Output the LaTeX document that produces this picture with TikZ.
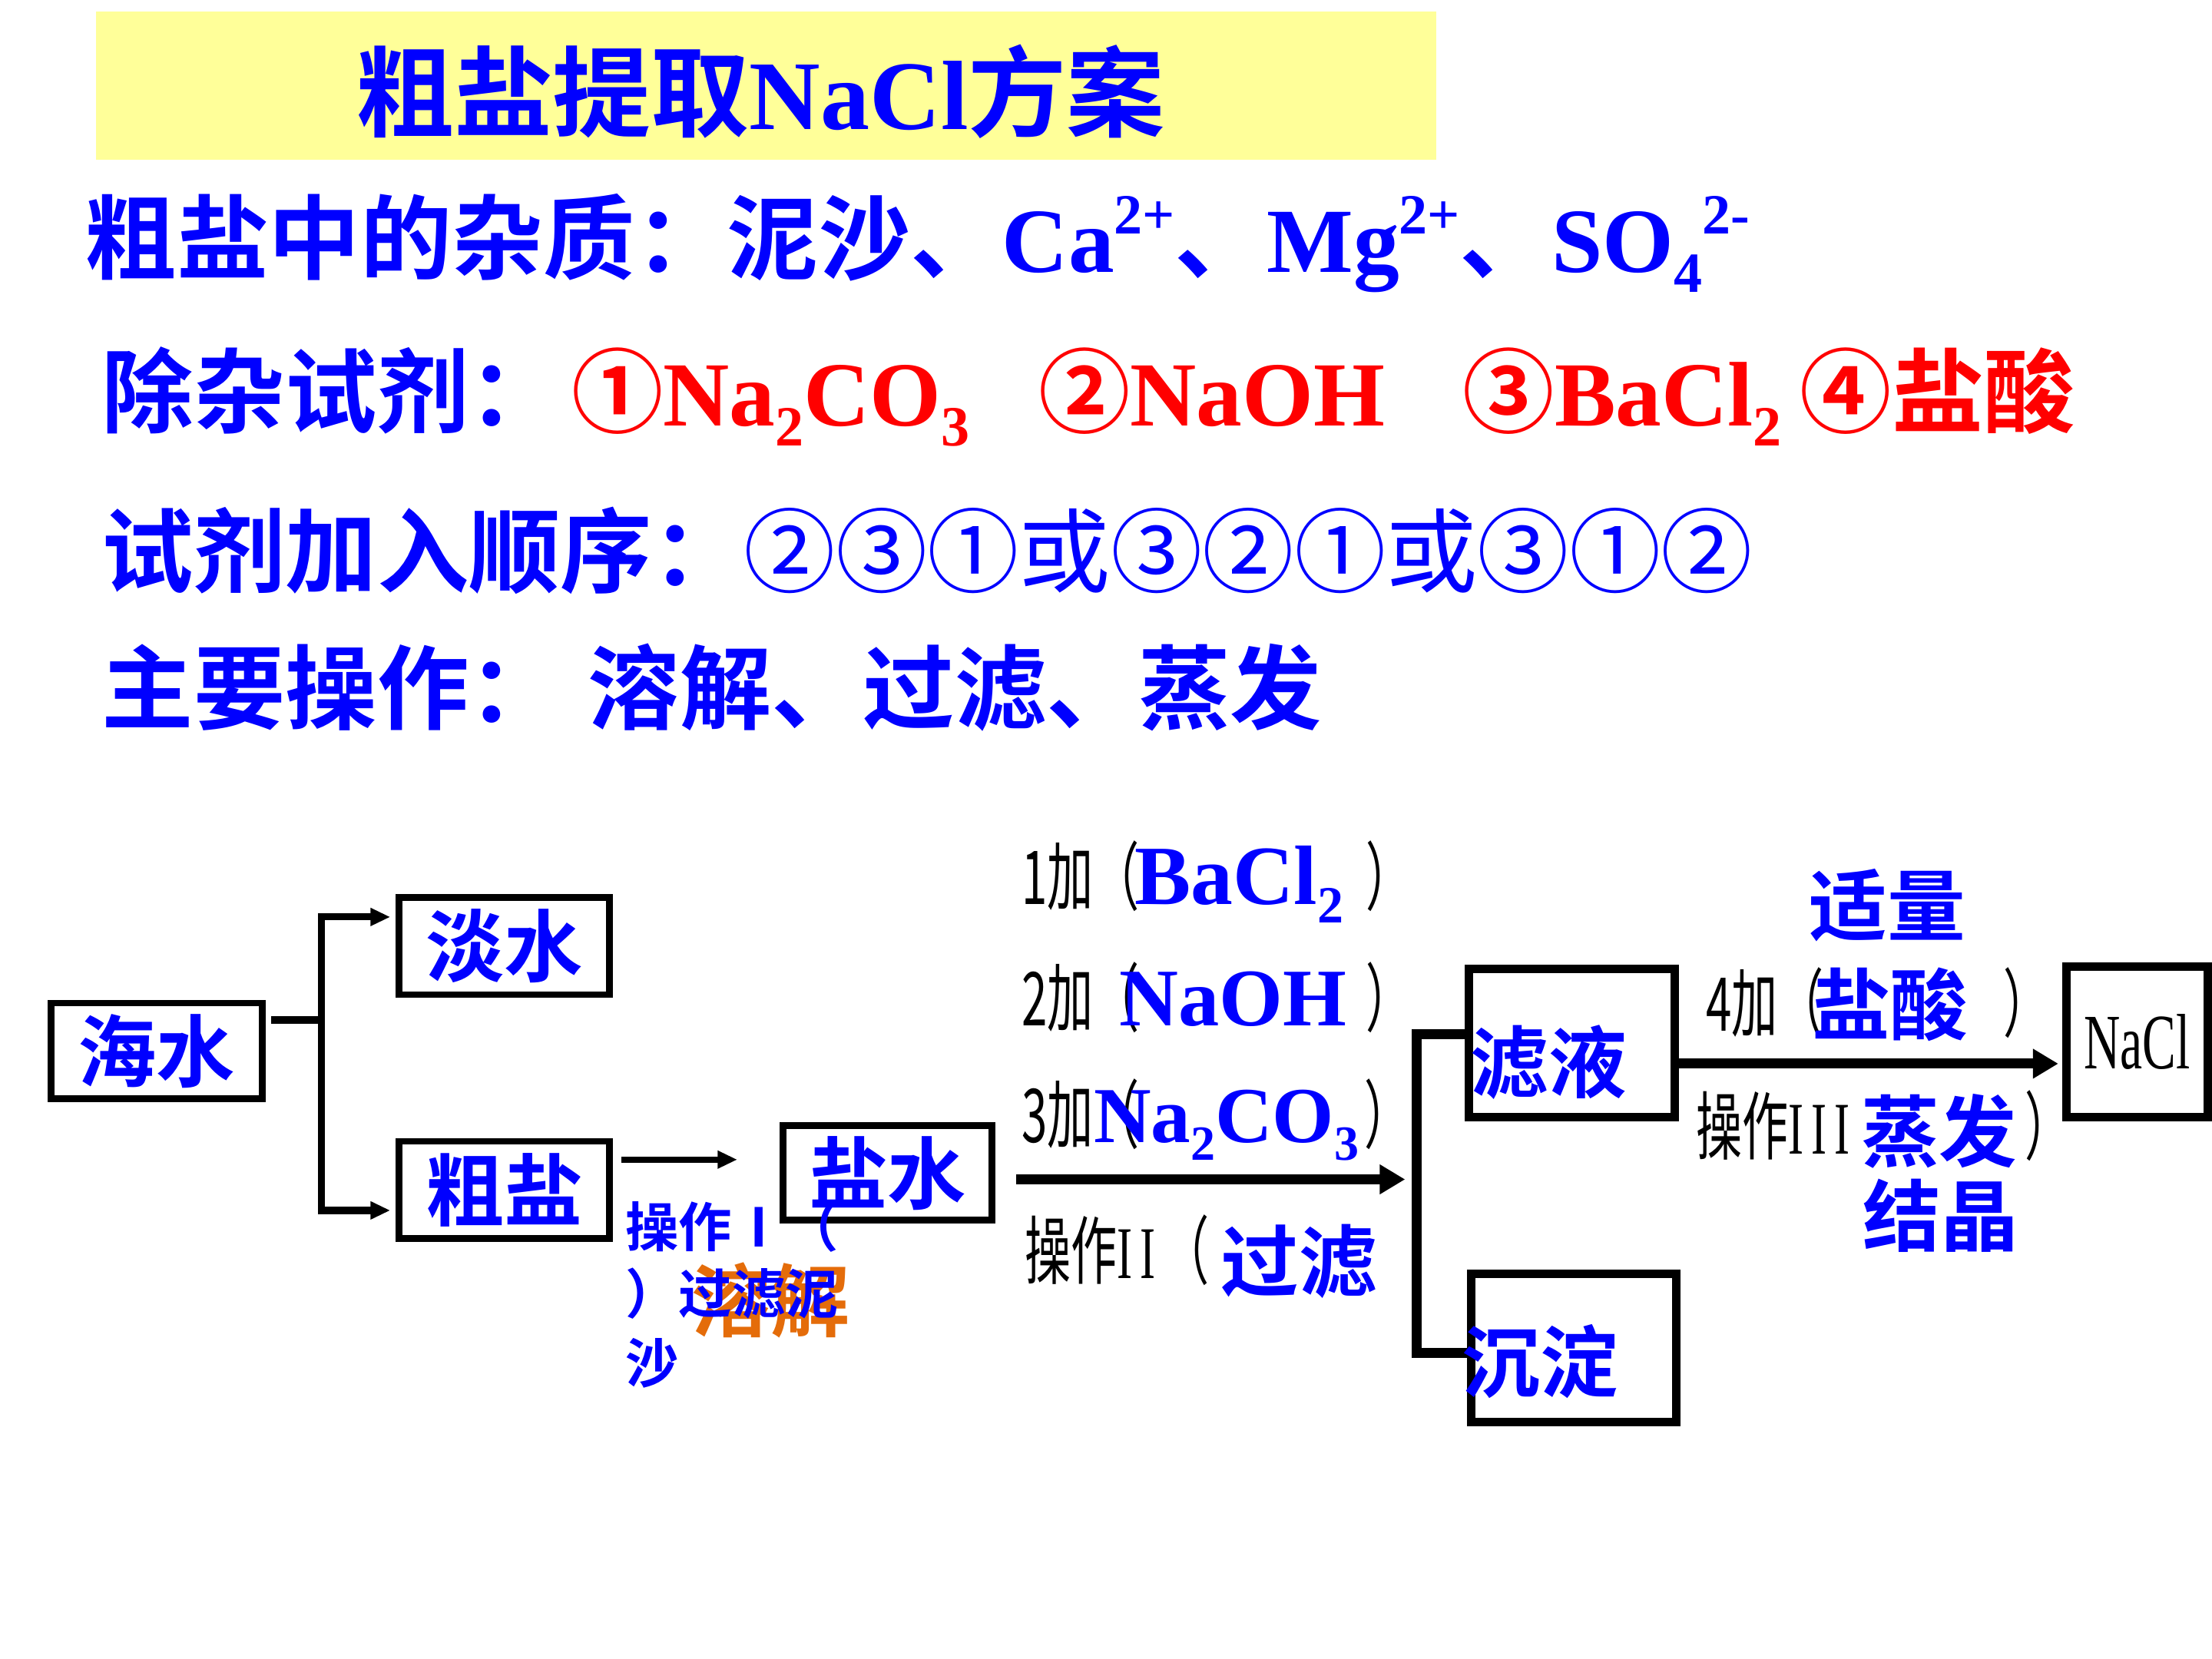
\documentclass[tikz,border=0pt]{standalone}
\usepackage{fontspec}
\usepackage{graphicx}
\setmainfont{Liberation Serif}
\newfontfamily\cjk{Noto Sans CJK SC}[BoldFont={Noto Sans CJK SC Bold}]
\usetikzlibrary{arrows.meta,calc}
\definecolor{titlebg}{HTML}{FFFF99}
\definecolor{inkblue}{HTML}{0000FF}
\definecolor{inkred}{HTML}{FF0000}
\definecolor{inkorange}{HTML}{E46C0A}
\newcommand\la{\rmfamily}
\newcommand\chemsub[1]{\raisebox{-0.22em}{\scalebox{0.62}{#1}}}
\newcommand\chemsup[1]{\raisebox{0.42em}{\scalebox{0.62}{#1}}}
\newcommand\narrow[2][0.62]{\scalebox{#1}[1]{#2}}
\tikzset{
  headline/.style={font=\cjk\bfseries\fontsize{37}{44}\selectfont, text=inkblue, anchor=base west, inner sep=0pt},
  boxtext/.style={font=\cjk\bfseries\fontsize{31.7}{36}\selectfont, text=inkblue},
  bluelab/.style={font=\cjk\bfseries\fontsize{31.5}{36}\selectfont, text=inkblue, anchor=base west, inner sep=0pt},
  formula/.style={font=\bfseries\fontsize{33}{36}\selectfont, text=inkblue, anchor=base west, inner sep=0pt},
  thinlab/.style={font=\cjk\fontsize{30}{34}\selectfont, text=black, anchor=base west, inner sep=0pt},
  note/.style={font=\cjk\bfseries\fontsize{21.5}{26}\selectfont, text=inkblue, anchor=base west, inner sep=0pt},
  box/.style={draw, line width=0.095cm, inner sep=0pt},
  rbox/.style={draw, line width=0.12cm, inner sep=0pt},
  thinline/.style={line width=0.1cm},
  boldline/.style={line width=0.14cm},
  smallarr/.style={line width=0.09cm, -{Triangle[length=0.28cm,width=0.24cm]}},
  bigarr/.style={line width=0.14cm, -{Triangle[length=0.36cm,width=0.4cm]}}
}
\begin{document}
\begin{tikzpicture}[x=0.02cm, y=-0.02cm, line join=miter]
  \useasboundingbox (0,0) rectangle (1568,1176);

  \node[fill=titlebg, minimum width=19cm, minimum height=2.1cm, inner sep=0pt] (titlebox) at (543,60.5) {};
  \node[headline, font=\cjk\bfseries\fontsize{39.7}{44}\selectfont] (title) at (252,92) {粗盐提取{\la NaCl}方案};

  \node[headline] (impure) at (60,193) {粗盐中的杂质：泥沙、{\la Ca\chemsup{2+}}、{\la Mg\chemsup{2+}}、{\la SO\chemsub{4}\chemsup{2-}}};
  \node[headline] (reagent) at (72,302) {除杂试剂：\hspace{0.12em}{\color{inkred}①{\la Na\chemsub{2}CO\chemsub{3}}\hspace{0.75em}②{\la NaOH}\hspace{0.85em}③{\la BaCl\chemsub{2}}\hspace{0.2em}④盐酸}};
  \node[headline] (order) at (72,415) {试剂加入顺序：{\mdseries ②③①或③②①或③①②}};
  \node[headline] (steps) at (72,512) {主要操作：\hspace{0.3em}溶解、过滤、蒸发};

  \node[box, minimum width=3cm, minimum height=1.36cm, boxtext] (haishui) at (111,745) {海水};
  \node[box, minimum width=2.98cm, minimum height=1.38cm, boxtext] (danshui) at (357.5,670.5) {淡水};
  \node[box, minimum width=2.98cm, minimum height=1.38cm, boxtext] (cuyan) at (357.5,843.5) {粗盐};
  \node[box, minimum width=2.96cm, minimum height=1.34cm, boxtext] (yanshui) at (629,831.5) {盐水};
  \node[rbox, minimum width=2.92cm, minimum height=2.1cm] (lvye) at (1114,739.5) {};
  \node[rbox, minimum width=2.9cm, minimum height=2.1cm] (chendian) at (1115.5,955.5) {};
  \node[rbox, minimum width=2cm, minimum height=2.14cm, font=\fontsize{31.7}{36}\selectfont] (nacl) at (1515,738.5) {\narrow[0.64]{NaCl}};

  \coordinate (fork) at (228,723);
  \draw[thinline] ($(haishui.east)+(4,-22)$) -- (fork);
  \draw[smallarr, line width=0.1cm] (fork) |- ($(danshui.west)+(-4,-20.5)$);
  \draw[smallarr, line width=0.1cm] (fork) |- ($(cuyan.west)+(-4,14.5)$);
  \draw[smallarr] ($(cuyan.east)+(6,-21.5)$) -- ($(yanshui.west)+(-30,-9.5)$);

  \coordinate (split) at (1004,836);
  \draw[bigarr] ($(yanshui.east)+(15,4.5)$) -- ($(split)+(-8,0)$);
  \draw[boldline] ($(lvye.west)+(0,-6.5)$) -| (split) |- ($(chendian.west)+(0,3.5)$);
  \draw[bigarr] ($(lvye.east)+(0,14.5)$) -- ($(nacl.west)+(-3,15.5)$);

  \node[bluelab] (lvyetext) at (1042,774) {滤液};
  \node[bluelab] (chendiantext) at (1036,986) {沉淀};

  \node[bluelab, font=\cjk\bfseries\fontsize{32}{36}\selectfont, text=inkorange] (dissolve) at (490,943) {溶解};
  \node[note] (op1a) at (443,884) {操作Ⅰ（};
  \node[note] (op1b) at (443,931) {）过滤泥};
  \node[note] (op1c) at (443,980) {沙};

  \node[thinlab] (add1) at (724,641) {\narrow{1加（}};
  \node[formula, font=\bfseries\fontsize{34}{36}\selectfont] (bacl) at (804,641) {BaCl\chemsub{2}};
  \node[thinlab] (rp1) at (968,641) {\narrow{）}};
  \node[thinlab] (add2) at (724,727) {\narrow{2加（}};
  \node[formula] (naoh) at (793,727) {NaOH};
  \node[thinlab] (rp2) at (968,727) {\narrow{）}};
  \node[thinlab] (add3) at (724,810) {\narrow{3加（}};
  \node[formula, font=\bfseries\fontsize{32}{36}\selectfont] (naco) at (775,810) {Na\chemsub{2}CO\chemsub{3}};
  \node[thinlab] (rp3) at (967,810) {\narrow{）}};
  \node[thinlab] (op2) at (726,906) {\narrow{操作{\la I\,I}\,（}};
  \node[bluelab] (filt) at (865,915) {过滤};

  \node[bluelab] (shiliang) at (1282,663) {适量};
  \node[thinlab] (add4) at (1209,731) {\narrow{4加（}};
  \node[bluelab] (hcl) at (1284,733) {盐酸};
  \node[thinlab] (rp4) at (1420,731) {\narrow{）}};
  \node[thinlab] (op3) at (1202,818) {\narrow{操作{\la I\,I\,I}}};
  \node[bluelab] (evap) at (1319,823) {蒸发};
  \node[thinlab] (rp5) at (1435,818) {\narrow{）}};
  \node[bluelab] (cryst) at (1320,883) {结晶};
\end{tikzpicture}
\end{document}
